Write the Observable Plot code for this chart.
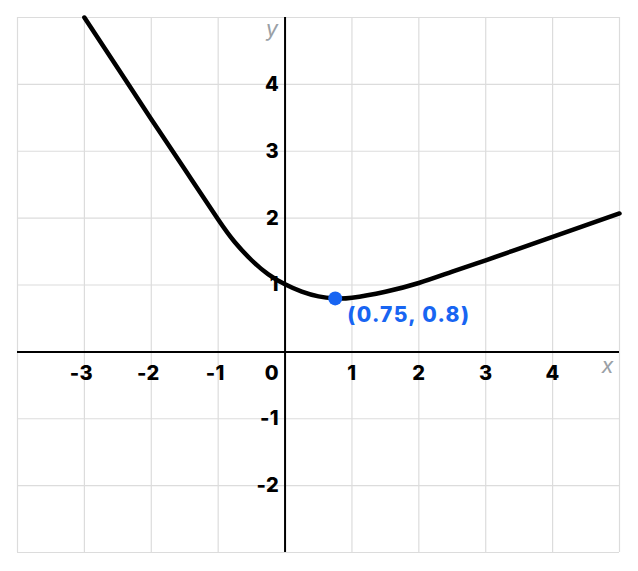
<!DOCTYPE html>
<html>
<head>
<meta charset="utf-8">
<script src="https://cdn.jsdelivr.net/npm/d3@7"></script>
<script src="https://cdn.jsdelivr.net/npm/@observablehq/plot@0.6"></script>
<style>
  html, body { margin: 0; padding: 0; background: #fff; }
  svg text { font-family: Inter, Lato, "Noto Sans", sans-serif; }
  svg g[fill="#1865f2"] text { letter-spacing: 1.4px; }
  svg g[fill="#000"] text { letter-spacing: 0.4px; }
</style>
</head>
<body>
<div id="chart"></div>
<script>
// Curve points
const curveX = [-3, -2.5, -2, -1.5, -1, -0.75, -0.5, -0.25, 0, 0.25, 0.5, 0.75, 1, 1.5, 2, 2.5, 3, 3.5, 4, 4.5, 5];
const curveY = [5.0, 4.24, 3.48, 2.73, 1.98, 1.64, 1.37, 1.16, 1.01, 0.9, 0.83, 0.8, 0.81, 0.9, 1.03, 1.2, 1.37, 1.545, 1.72, 1.895, 2.07];

// Highlighted point
const pointX = [0.75];
const pointY = [0.8];
const pointLabel = ["(0.75, 0.8)"];

// Grid / tick values
const gridX = [-4, -3, -2, -1, 0, 1, 2, 3, 4, 5];
const gridY = [-3, -2, -1, 0, 1, 2, 3, 4, 5];
const xTickLabelsNeg = [-3, -2, -1];
const xTickLabelsPos = [1, 2, 3, 4];
const yTickLabels = [-2, -1, 1, 2, 3, 4];

const curve = curveX.map((x, i) => ({x, y: curveY[i]}));
const pts = pointX.map((x, i) => ({x, y: pointY[i], label: pointLabel[i]}));

const blue = "#1865f2";
const fmt = d => (d < 0 ? "-" + Math.abs(d) : String(d));
const labelStyle = {fontSize: 20, fontWeight: 800, fill: "#000"};

const chart = Plot.plot({
  width: 638,
  height: 571,
  marginLeft: 17,
  marginTop: 17,
  marginRight: 19,
  marginBottom: 19,
  x: {domain: [-4, 5], axis: null},
  y: {domain: [-3, 5], axis: null},
  marks: [
    Plot.ruleX(gridX, {stroke: "#dcdcdc", strokeWidth: 1.2}),
    Plot.ruleY(gridY, {stroke: "#dcdcdc", strokeWidth: 1.2}),
    Plot.ruleX([0], {stroke: "#000", strokeWidth: 2}),
    Plot.ruleY([0], {stroke: "#000", strokeWidth: 2}),
    Plot.text(xTickLabelsNeg, {
      x: d => d, y: () => 0, text: d => fmt(d), dx: -3, dy: 22, ...labelStyle
    }),
    Plot.text(xTickLabelsPos, {
      x: d => d, y: () => 0, text: d => fmt(d), dy: 22, ...labelStyle
    }),
    Plot.text(yTickLabels, {
      x: () => 0, y: d => d, text: d => fmt(d), dx: -6, textAnchor: "end", ...labelStyle
    }),
    Plot.text(["0"], {
      x: () => 0, y: () => 0, text: d => d, dx: -6, dy: 22, textAnchor: "end", ...labelStyle
    }),
    Plot.text(["x"], {
      x: () => 5, y: () => 0, text: d => d, dx: -6, dy: 14, textAnchor: "end",
      fontFamily: "Lato, sans-serif", fontSize: 22, fontStyle: "italic", fill: "#9aa0a6"
    }),
    Plot.text(["y"], {
      x: () => 0, y: () => 5, text: d => d, dx: -7, dy: 11, textAnchor: "end",
      fontFamily: "Lato, sans-serif", fontSize: 22, fontStyle: "italic", fill: "#9aa0a6"
    }),
    Plot.line(curve, {x: "x", y: "y", curve: "natural", stroke: "#000", strokeWidth: 4.5}),
    Plot.dot(pts, {x: "x", y: "y", r: 7, fill: blue, stroke: "none"}),
    Plot.text(pts, {
      x: "x", y: "y", text: "label", dx: 12, dy: 17, textAnchor: "start",
      fontSize: 21, fontWeight: 800, fill: blue
    })
  ]
});
document.getElementById("chart").appendChild(chart);
</script>
</body>
</html>
